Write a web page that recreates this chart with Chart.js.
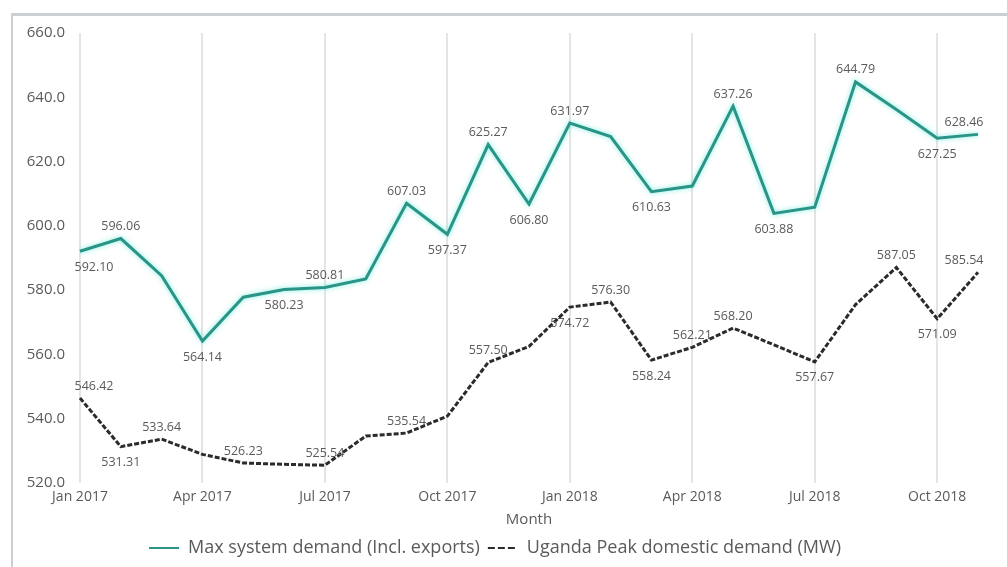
<!DOCTYPE html>
<html>
<head>
<meta charset="utf-8">
<script src="https://cdn.jsdelivr.net/npm/chart.js@4.4.1/dist/chart.umd.min.js"></script>
<style>
  html, body { margin: 0; padding: 0; background: #fff; }
  #wrap { position: relative; width: 1007px; height: 567px; overflow: hidden; }
  #frame {
    position: absolute; left: 11px; top: 13px; width: 1010px; height: 570px;
    border-left: 2px solid #c9d0d2; border-top: 3px solid #c9d0d2;
  }
  canvas { position: absolute; left: 0; top: 0; }
</style>
</head>
<body>
<div id="wrap">
  <div id="frame"></div>
  <canvas id="demandChart" width="1007" height="567"></canvas>
</div>
<script>
const months = [
  "Jan 2017", "Feb 2017", "Mar 2017", "Apr 2017", "May 2017", "Jun 2017",
  "Jul 2017", "Aug 2017", "Sep 2017", "Oct 2017", "Nov 2017", "Dec 2017",
  "Jan 2018", "Feb 2018", "Mar 2018", "Apr 2018", "May 2018", "Jun 2018",
  "Jul 2018", "Aug 2018", "Sep 2018", "Oct 2018", "Nov 2018"
];

// MW
const maxDemand = [
  592.10, 596.06, 584.5, 564.14, 577.8, 580.23,
  580.81, 583.5, 607.03, 597.37, 625.27, 606.80,
  631.97, 627.8, 610.63, 612.4, 637.26, 603.88,
  605.8, 644.79, 636.2, 627.25, 628.46
];
const domesticDemand = [
  546.42, 531.31, 533.64, 528.9, 526.23, 525.8,
  525.54, 534.6, 535.54, 540.8, 557.50, 562.5,
  574.72, 576.30, 558.24, 562.21, 568.20, 563.0,
  557.67, 575.5, 587.05, 571.09, 585.54
];

const yMin = 520;
const yMax = 660;
const yStep = 20;

// where each value label sits: a = above the point, b = below, "" = none
const maxLabelPos = ["b","a","","b","","b","a","","a","b","a","b","a","","b","","a","b","","a","","b","a"];
const domLabelPos = ["a","b","a","","a","","a","","a","","a","","b","a","b","a","a","","b","","a","b","a"];

const grey = "#5a5a5a";
const teal = "#2a9486";

// value labels next to the points
const valueLabels = {
  id: "valueLabels",
  afterDatasetsDraw(chart) {
    const ctx = chart.ctx;
    const last = months.length - 1;
    ctx.save();
    ctx.font = "12.5px 'Open Sans'";
    ctx.fillStyle = grey;
    ctx.textAlign = "center";
    ctx.textBaseline = "middle";
    [maxLabelPos, domLabelPos].forEach((posList, di) => {
      const meta = chart.getDatasetMeta(di);
      const values = chart.data.datasets[di].data;
      meta.data.forEach((pt, i) => {
        const pos = posList[i];
        if (!pos) return;
        let dx = 0;
        if (i === 0) dx = 14;
        if (i === last) dx = -14;
        const dy = pos === "a" ? -12 : 16;
        ctx.fillText(values[i].toFixed(2), pt.x + dx, pt.y + dy);
      });
    });
    ctx.restore();
  }
};

// soft halo round the teal line
const tealGlow = {
  id: "tealGlow",
  beforeDatasetDraw(chart, args) {
    if (args.index !== 0) return;
    chart.ctx.save();
    chart.ctx.shadowColor = "rgba(90, 235, 215, 0.8)";
    chart.ctx.shadowBlur = 5;
  },
  afterDatasetDraw(chart, args) {
    if (args.index !== 0) return;
    chart.ctx.restore();
  }
};

const ctx = document.getElementById("demandChart").getContext("2d");
new Chart(ctx, {
  type: "line",
  data: {
    labels: months,
    datasets: [
      {
        label: "Max system demand (Incl. exports)",
        data: maxDemand,
        borderColor: teal,
        backgroundColor: teal,
        borderWidth: 3,
        pointRadius: 0,
        tension: 0,
        borderJoinStyle: "miter"
      },
      {
        label: "Uganda Peak domestic demand (MW)",
        data: domesticDemand,
        borderColor: "#2b2b2b",
        backgroundColor: "#2b2b2b",
        borderWidth: 3,
        borderDash: [5, 2],
        pointRadius: 0,
        tension: 0
      }
    ]
  },
  options: {
    responsive: false,
    animation: false,
    layout: { padding: { left: 12, right: 29, top: 33, bottom: 0 } },
    scales: {
      x: {
        offset: false,
        grid: {
          drawTicks: false,
          lineWidth: 2,
          color: (c) => (c.index % 3 === 0 ? "#e4e4e4" : "rgba(0,0,0,0)")
        },
        border: { display: false },
        ticks: {
          autoSkip: false,
          maxRotation: 0,
          padding: 6,
          color: grey,
          font: { family: "'Open Sans'", size: 14 },
          callback: (v, i) => (i % 3 === 0 ? months[i] : "")
        },
        title: {
          display: true,
          text: "Month",
          color: grey,
          font: { family: "'Open Sans'", size: 15 },
          padding: { top: 4, bottom: 2 }
        },
        afterFit: (scale) => { scale.height = 48; }
      },
      y: {
        min: yMin,
        max: yMax,
        grid: { display: false, drawTicks: false },
        border: { display: false },
        ticks: {
          stepSize: yStep,
          padding: 15,
          color: grey,
          font: { family: "'Open Sans'", size: 15 },
          callback: (v) => Number(v).toFixed(1)
        },
        afterFit: (scale) => { scale.width = 68; }
      }
    },
    plugins: {
      legend: {
        position: "bottom",
        labels: {
          usePointStyle: true,
          pointStyle: "line",
          pointStyleWidth: 30,
          padding: 8,
          color: grey,
          font: { family: "'Open Sans'", size: 18 },
          generateLabels(chart) {
            const items = Chart.defaults.plugins.legend.labels.generateLabels(chart);
            // longer dashes so the legend sample reads as "---"
            items[1].lineDash = [7, 3];
            items[1].lineWidth = 2;
            items[0].lineWidth = 2;
            return items;
          }
        }
      },
      tooltip: { enabled: false }
    }
  },
  plugins: [tealGlow, valueLabels]
});
</script>
</body>
</html>
